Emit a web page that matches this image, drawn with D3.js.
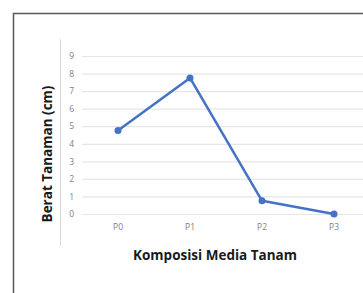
<!DOCTYPE html>
<html><head><meta charset="utf-8">
<script src="https://cdn.jsdelivr.net/npm/d3@7"></script>
<style>body{margin:0;background:#fff;}svg{display:block;}</style>
</head><body><svg id="c" width="363" height="293"></svg>
<script>
const categories = ["P0","P1","P2","P3"];
const values = [4.75, 7.75, 0.75, 0];
const yTicks = [0,1,2,3,4,5,6,7,8,9];
const xTitle = "Komposisi Media Tanam";
const yTitle = "Berat Tanaman (cm)";

const svg = d3.select("#c");
const font = "'Open Sans', sans-serif";
// outer frame
svg.append("rect").attr("x",13.5).attr("y",13.5).attr("width",400).attr("height",400)
  .attr("fill","none").attr("stroke","#595959").attr("stroke-width",1.5);
// inner plot-area left border
svg.append("line").attr("x1",60.5).attr("x2",60.5).attr("y1",39).attr("y2",246)
  .attr("stroke","#d9d9d9").attr("stroke-width",1);

const x = d3.scaleBand().domain(categories).range([82,370]);
const y = d3.scaleLinear().domain([0,9]).range([214,56]);

const ya = svg.append("g").attr("transform","translate(82,0)")
  .call(d3.axisLeft(y).tickValues(yTicks).tickSize(-300).tickPadding(8));
ya.select(".domain").remove();
ya.selectAll("line").attr("stroke","#e6e6e6").attr("stroke-width",1.2);
ya.selectAll("text").attr("fill","#808080").style("font-family",font).style("font-size","8.5px");

const xa = svg.append("g").attr("transform","translate(0,214)")
  .call(d3.axisBottom(x).tickSize(0).tickPadding(10));
xa.select(".domain").remove();
xa.selectAll("text").attr("fill","#808080").style("font-family",font).style("font-size","8.5px");

const line = d3.line().x((d,i)=>x(categories[i])+x.bandwidth()/2).y(d=>y(d));
svg.append("path").datum(values).attr("d",line).attr("fill","none")
  .attr("stroke","#4472C4").attr("stroke-width",2.5).attr("stroke-linejoin","round");
svg.selectAll("circle.pt").data(values).enter().append("circle")
  .attr("cx",(d,i)=>x(categories[i])+x.bandwidth()/2).attr("cy",d=>y(d)).attr("r",3.5)
  .attr("fill","#4472C4");

svg.append("text").attr("x",215).attr("y",260).attr("text-anchor","middle")
  .style("font-family",font).style("font-weight","bold").style("font-size","13.5px").attr("fill","#1a1a1a").text(xTitle);
svg.append("text").attr("transform","translate(52,154) rotate(-90)").attr("text-anchor","middle")
  .style("font-family",font).style("font-weight","bold").style("font-size","13.5px").attr("fill","#1a1a1a").text(yTitle);
</script></body></html>
